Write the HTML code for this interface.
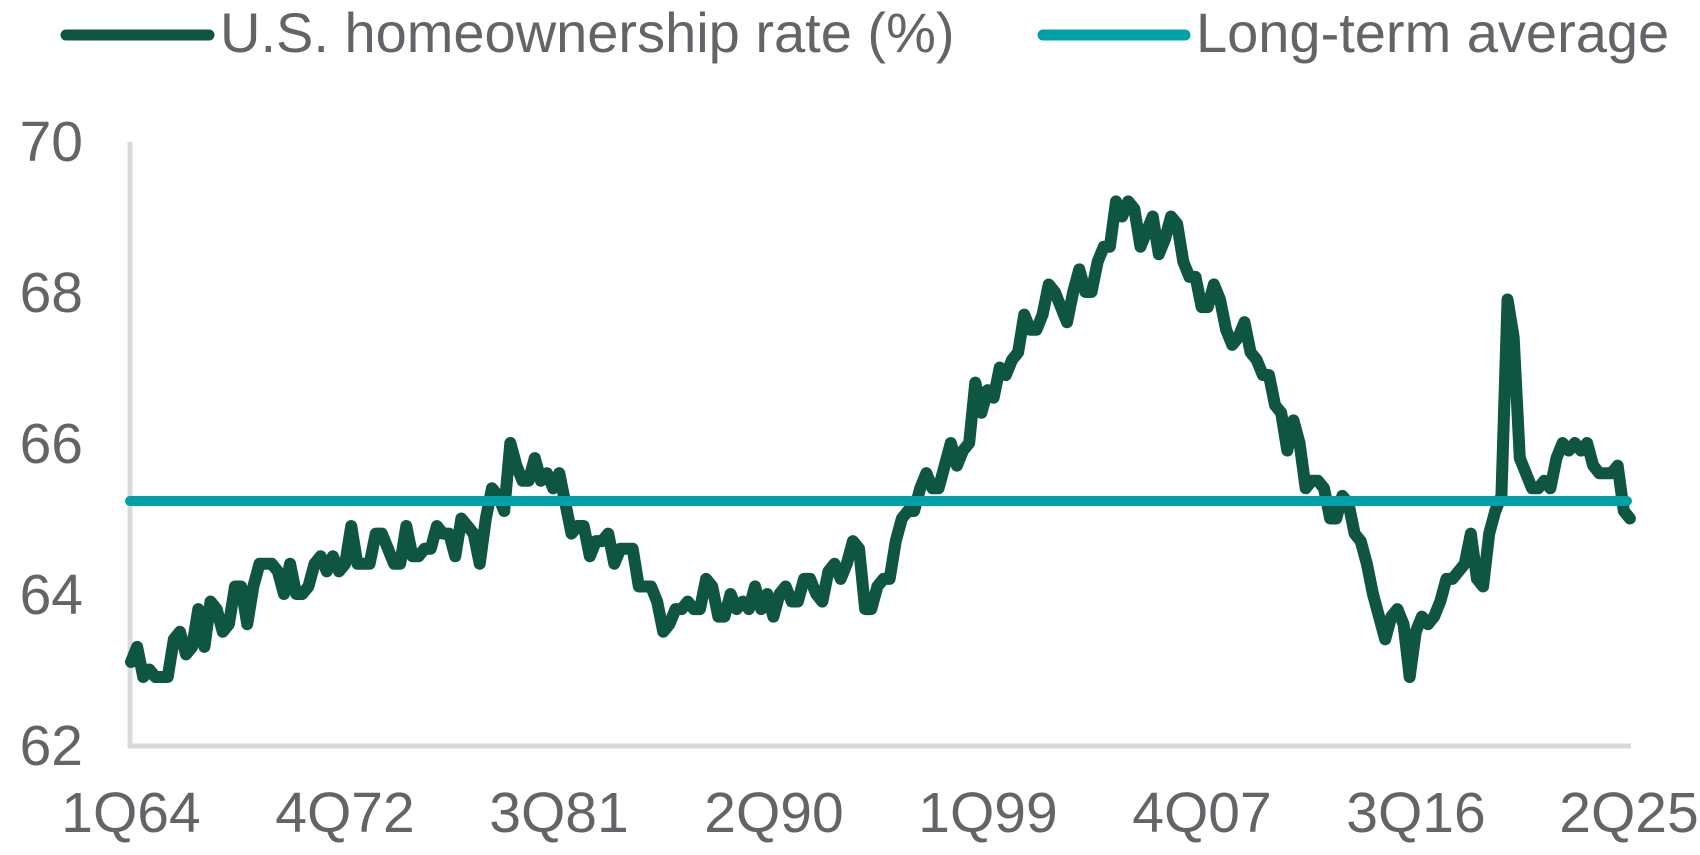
<!DOCTYPE html>
<html>
<head>
<meta charset="utf-8">
<style>
  html, body { margin: 0; padding: 0; background: #ffffff; }
  body { width: 1700px; height: 855px; overflow: hidden; }
  svg { display: block; }
  text { font-family: "Liberation Sans", Arial, sans-serif; fill: #646468; }
</style>
</head>
<body>
<svg width="1700" height="855" viewBox="0 0 1700 855" xmlns="http://www.w3.org/2000/svg">
  <!-- Legend -->
  <line x1="66" y1="35" x2="209" y2="35" stroke="#0E5641" stroke-width="11" stroke-linecap="round"/>
  <text x="220" y="52" font-size="56">U.S. homeownership rate (%)</text>
  <line x1="1043" y1="35" x2="1185" y2="35" stroke="#00A0A8" stroke-width="11" stroke-linecap="round"/>
  <text x="1196" y="52" font-size="56">Long-term average</text>

  <!-- Axes -->
  <line x1="130" y1="142" x2="130" y2="748" stroke="#d9d9d9" stroke-width="5"/>
  <line x1="128" y1="746" x2="1631" y2="746" stroke="#d9d9d9" stroke-width="5"/>

  <!-- Y tick labels -->
  <g font-size="57" text-anchor="end">
    <text x="83" y="161">70</text>
    <text x="83" y="312">68</text>
    <text x="83" y="463">66</text>
    <text x="83" y="614">64</text>
    <text x="83" y="765">62</text>
  </g>

  <!-- X tick labels -->
  <g font-size="57" text-anchor="middle">
    <text x="131" y="832">1Q64</text>
    <text x="345" y="832">4Q72</text>
    <text x="559" y="832">3Q81</text>
    <text x="774" y="832">2Q90</text>
    <text x="988" y="832">1Q99</text>
    <text x="1202" y="832">4Q07</text>
    <text x="1416" y="832">3Q16</text>
    <text x="1629" y="832">2Q25</text>
  </g>

  <!-- Homeownership series -->
  <path fill="none" stroke="#0E5641" stroke-width="12" stroke-linejoin="round" stroke-linecap="round"
    d="M131,661.95
    l6.118,-15.1 6.118,30.2 6.118,-7.55 6.118,7.55 6.118,0 6.118,0 6.118,-37.75 6.118,-7.55 6.118,22.65 6.118,-7.55
    6.118,-37.75 6.118,37.75 6.118,-45.3 6.118,7.55 6.118,22.65 6.118,-7.55 6.118,-37.75 6.118,0 6.118,37.75 6.118,-37.75
    6.118,-22.65 6.118,0 6.118,0 6.118,7.55 6.118,22.65 6.118,-30.2 6.118,30.2 6.118,0 6.118,-7.55 6.118,-22.65
    6.118,-7.55 6.118,15.1 6.118,-15.1 6.118,15.1 6.118,-7.55 6.118,-37.75 6.118,37.75 6.118,0 6.118,0 6.118,-30.2
    6.118,0 6.118,15.1 6.118,15.1 6.118,0 6.118,-37.75 6.118,30.2 6.118,0 6.118,-7.55 6.118,0 6.118,-22.65
    6.118,7.55 6.118,0 6.118,22.65 6.118,-37.75 6.118,7.55 6.118,7.55 6.118,30.2 6.118,-45.3 6.118,-30.2 6.118,7.55
    6.118,15.1 6.118,-67.95 6.118,22.65 6.118,15.1 6.118,0 6.118,-22.65 6.118,22.65 6.118,-7.55 6.118,15.1 6.118,-15.1
    6.118,30.2 6.118,30.2 6.118,-7.55 6.118,0 6.118,30.2 6.118,-15.1 6.118,0 6.118,-7.55 6.118,30.2 6.118,-15.1
    6.118,0 6.118,0 6.118,37.75 6.118,0 6.118,0 6.118,15.1 6.118,30.2 6.118,-7.55 6.118,-15.1 6.118,0
    6.118,-7.55 6.118,7.55 6.118,0 6.118,-30.2 6.118,7.55 6.118,30.2 6.118,0 6.118,-22.65 6.118,15.1 6.118,-7.55
    6.118,7.55 6.118,-22.65 6.118,22.65 6.118,-15.1 6.118,22.65 6.118,-22.65 6.118,-7.55 6.118,15.1 6.118,0 6.118,-22.65
    6.118,0 6.118,15.1 6.118,7.55 6.118,-30.2 6.118,-7.55 6.118,15.1 6.118,-15.1 6.118,-22.65 6.118,7.55 6.118,60.4
    6.118,0 6.118,-22.65 6.118,-7.55 6.118,0 6.118,-37.75 6.118,-22.65 6.118,-7.55 6.118,0 6.118,-22.65 6.118,-15.1
    6.118,15.1 6.118,0 6.118,-22.65 6.118,-22.65 6.118,22.65 6.118,-15.1 6.118,-7.55 6.118,-60.4 6.118,30.2 6.118,-22.65
    6.118,7.55 6.118,-30.2 6.118,7.55 6.118,-15.1 6.118,-7.55 6.118,-37.75 6.118,15.1 6.118,0 6.118,-15.1 6.118,-30.2
    6.118,7.55 6.118,15.1 6.118,15.1 6.118,-30.2 6.118,-22.65 6.118,22.65 6.118,0 6.118,-30.2 6.118,-15.1 6.118,0
    6.118,-45.3 6.118,15.1 6.118,-15.1 6.118,7.55 6.118,37.75 6.118,-15.1 6.118,-15.1 6.118,37.75 6.118,-15.1 6.118,-22.65
    6.118,7.55 6.118,37.75 6.118,15.1 6.118,0 6.118,30.2 6.118,0 6.118,-22.65 6.118,15.1 6.118,30.2 6.118,15.1
    6.118,-7.55 6.118,-15.1 6.118,30.2 6.118,7.55 6.118,15.1 6.118,0 6.118,30.2 6.118,7.55 6.118,37.75 6.118,-30.2
    6.118,22.65 6.118,45.3 6.118,-7.55 6.118,0 6.118,7.55 6.118,30.2 6.118,0 6.118,-22.65 6.118,7.55 6.118,30.2
    6.118,7.55 6.118,22.65 6.118,30.2 6.118,22.65 6.118,22.65 6.118,-22.65 6.118,-7.55 6.118,15.1 6.118,52.85 6.118,-45.3
    6.118,-15.1 6.118,7.55 6.118,-7.55 6.118,-15.1 6.118,-22.65 6.118,0 6.118,-7.55 6.118,-7.55 6.118,-30.2 6.118,45.3
    6.118,7.55 6.118,-52.85 6.118,-22.65 6.118,-15.1 6.118,-196.3 6.118,37.75 6.118,120.8 6.118,15.1 6.118,15.1 6.118,0
    6.118,-7.55 6.118,7.55 6.118,-30.2 6.118,-15.1 6.118,7.55 6.118,-7.55 6.118,7.55 6.118,-7.55 6.118,22.65 6.118,7.55
    6.118,0 6.118,0 6.118,-7.55 6.118,45.3 6.118,7.55"/>

  <!-- Long-term average -->
  <line x1="130" y1="501" x2="1627" y2="501" stroke="#00A0A8" stroke-width="10" stroke-linecap="round"/>
  <line x1="130" y1="501" x2="140" y2="501" stroke="#00A0A8" stroke-width="10"/>
</svg>
</body>
</html>
